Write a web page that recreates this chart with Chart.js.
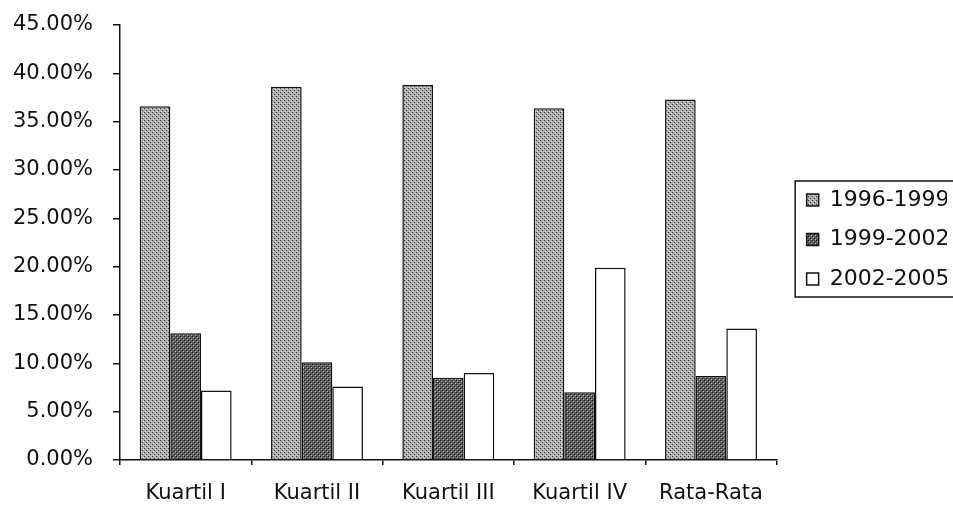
<!DOCTYPE html>
<html>
<head>
<meta charset="utf-8">
<script src="https://cdn.jsdelivr.net/npm/chart.js@4"></script>
<style>
  html, body { margin: 0; padding: 0; background: #ffffff; }
  #wrap { width: 953px; height: 506px; overflow: hidden; }
</style>
</head>
<body>
<div id="wrap"><canvas id="chart" width="953" height="506"></canvas></div>
<script>
// Categories and series (percent)
const categories = ['Kuartil I', 'Kuartil II', 'Kuartil III', 'Kuartil IV', 'Rata-Rata'];
const seriesNames = ['1996-1999', '1999-2002', '2002-2005'];
const period1996 = [36.6, 38.6, 38.8, 36.4, 37.3];
const period1999 = [13.1, 10.1, 8.5, 7.0, 8.7];
const period2002 = [7.2, 7.6, 9.0, 19.9, 13.6];
const yTicks = [0, 5, 10, 15, 20, 25, 30, 35, 40, 45];

// Halftone-like fills for the shaded bars
function makePattern(base, spots) {
  const c = document.createElement('canvas');
  c.width = 4; c.height = 4;
  const g = c.getContext('2d');
  g.fillStyle = base;
  g.fillRect(0, 0, 4, 4);
  spots.forEach(([x, y, col]) => { g.fillStyle = col; g.fillRect(x, y, 1, 1); });
  return g.createPattern(c, 'repeat');
}
const lightFill = makePattern('#acacac', [[0, 0, '#333333'], [2, 2, '#333333'], [1, 3, '#e0e0e0'], [3, 1, '#e0e0e0']]);
const darkFill = makePattern('#5a5a5a', [[0, 0, '#1c1c1c'], [2, 2, '#1c1c1c'], [1, 1, '#b8b8b8'], [3, 3, '#b8b8b8']]);

const FONT = 'DejaVu Sans';

// Frame drawn around the legend entries
const legendFrame = {
  id: 'legendFrame',
  afterDraw(chart) {
    const lg = chart.legend;
    if (!lg || !lg.legendHitBoxes || !lg.legendHitBoxes.length) return;
    const hb = lg.legendHitBoxes;
    const first = hb[0], last = hb[hb.length - 1];
    const ctx = chart.ctx;
    ctx.save();
    ctx.strokeStyle = '#111';
    ctx.lineWidth = 1.5;
    const top = first.top - 8;
    const bottom = last.top + last.height + 7;
    ctx.strokeRect(lg.left + 6, top, chart.width, bottom - top);
    ctx.restore();
  }
};

new Chart(document.getElementById('chart'), {
  type: 'bar',
  data: {
    labels: categories,
    datasets: [
      { label: seriesNames[0], data: period1996, backgroundColor: lightFill, borderColor: '#111', borderWidth: 1.5 },
      { label: seriesNames[1], data: period1999, backgroundColor: darkFill, borderColor: '#111', borderWidth: 1.5 },
      { label: seriesNames[2], data: period2002, backgroundColor: '#ffffff', borderColor: '#111', borderWidth: 1.5 }
    ]
  },
  options: {
    responsive: false,
    animation: false,
    events: [],
    layout: { padding: { top: 25, left: 0, right: 6, bottom: -17 } },
    datasets: { bar: { categoryPercentage: 0.70, barPercentage: 1.0 } },
    scales: {
      x: {
        grid: { display: true, offset: true, drawOnChartArea: false, drawTicks: true, tickLength: 5, color: '#111', lineWidth: 1.5 },
        border: { display: true, color: '#111', width: 1.5 },
        ticks: { color: '#111', font: { family: FONT, size: 21 }, padding: 16.4, maxRotation: 0 }
      },
      y: {
        min: 0,
        max: 45,
        afterBuildTicks(scale) { scale.ticks = yTicks.map(v => ({ value: v })); },
        afterFit(scale) { scale.width = 120; },
        grid: { display: true, drawOnChartArea: false, drawTicks: true, tickLength: 7, color: '#111', lineWidth: 1.5 },
        border: { display: true, color: '#111', width: 1.5 },
        ticks: {
          color: '#111',
          font: { family: FONT, size: 21, lineHeight: 0.2 },
          padding: 20,
          callback: v => v.toFixed(2) + '%'
        }
      },
      // narrow empty band between the plot and the legend
      gap: {
        type: 'linear',
        position: 'right',
        display: true,
        grid: { display: false, drawTicks: false },
        border: { display: false },
        ticks: { display: false },
        afterFit(scale) { scale.width = 12.5; }
      }
    },
    plugins: {
      tooltip: { enabled: false },
      legend: {
        position: 'right',
        align: 'start',
        title: { display: true, text: '', font: { size: 10 }, padding: { top: 134.5, bottom: 0 } },
        labels: {
          color: '#111',
          font: { family: FONT, size: 22 },
          boxWidth: 12,
          boxHeight: 12,
          padding: 17.5
        }
      }
    }
  },
  plugins: [legendFrame]
});
</script>
</body>
</html>
